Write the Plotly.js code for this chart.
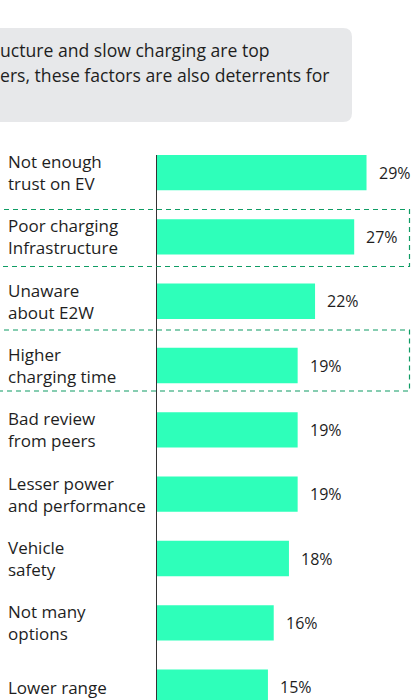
<!DOCTYPE html>
<html>
<head>
<meta charset="utf-8">
<script src="https://cdn.plot.ly/plotly-3.0.1.min.js"></script>
<style>
  html, body { margin: 0; padding: 0; overflow: hidden; background: #fff; }
  #chart { width: 411px; height: 760px; }
</style>
</head>
<body>
<div id="chart"></div>
<script>
// Barriers chart (cropped view)

const categories = [
    'Not enough<br>trust on EV',
    'Poor charging<br>Infrastructure',
    'Unaware<br>about E2W',
    'Higher<br>charging time',
    'Bad review<br>from peers',
    'Lesser power<br>and performance',
    'Vehicle<br>safety',
    'Not many<br>options',
    'Lower range'
];
// bar lengths; labels show the rounded share
const values = [28.9, 27.2, 21.8, 19.4, 19.4, 19.4, 18.2, 16.1, 15.3];
const valueLabels = ['29%', '27%', '22%', '19%', '19%', '19%', '18%', '16%', '15%'];
const highlighted = ['Poor charging<br>Infrastructure', 'Higher<br>charging time'];
const calloutLines = [
    'ucture and slow charging are top',
    'ers, these factors are also deterrents for'
];

const W = 411, H = 760;
const ml = 157, mt = 155, mr = 0, mb = 0;
const pw = W - ml - mr, ph = H - mt - mb;
const rowPx = 64.33;
const yTop = -0.2725;
const yBottom = yTop + ph / rowPx;
const pxPerUnit = 7.25;

// pixel -> paper helpers
const px = x => (x - ml) / pw;
const py = y => 1 - (y - mt) / ph;
const rowY = i => mt + (i - yTop) * rowPx;

// dashed highlight boxes: pixels above / below the row centre
const boxPad = [[28, 29], [36.5, 24.5]];

const trace = {
    type: 'bar',
    orientation: 'h',
    x: values,
    y: categories,
    marker: { color: '#2effba' },
    hoverinfo: 'skip'
};

const annotations = [];
categories.forEach((c, i) => {
    annotations.push({
        xref: 'paper', yref: 'y', x: 0, y: c, xshift: -151,
        xanchor: 'left', yanchor: 'middle', align: 'left',
        text: c, showarrow: false,
        font: { size: 17, color: '#1e1e1e' }
    });
    annotations.push({
        xref: 'x', yref: 'y', x: values[i], y: c, xshift: 10,
        xanchor: 'left', yanchor: 'middle',
        text: valueLabels[i], showarrow: false,
        font: { size: 16, color: '#1e1e1e' }
    });
});

// callout text
calloutLines.forEach((t, i) => {
    annotations.push({
        xref: 'paper', yref: 'paper', x: px(-2), y: py(50 + i * 25),
        xanchor: 'left', yanchor: 'middle', text: t, showarrow: false,
        font: { size: 17.6, color: '#1e1e1e' }
    });
});

// rounded callout box
function roundedBox(x0, y0, x1, y1, r) {
    const X = px, Y = py;
    return 'M' + X(x0 + r) + ',' + Y(y0) +
        ' L' + X(x1 - r) + ',' + Y(y0) +
        ' Q' + X(x1) + ',' + Y(y0) + ' ' + X(x1) + ',' + Y(y0 + r) +
        ' L' + X(x1) + ',' + Y(y1 - r) +
        ' Q' + X(x1) + ',' + Y(y1) + ' ' + X(x1 - r) + ',' + Y(y1) +
        ' L' + X(x0 + r) + ',' + Y(y1) +
        ' Q' + X(x0) + ',' + Y(y1) + ' ' + X(x0) + ',' + Y(y1 - r) +
        ' L' + X(x0) + ',' + Y(y0 + r) +
        ' Q' + X(x0) + ',' + Y(y0) + ' ' + X(x0 + r) + ',' + Y(y0) + ' Z';
}

const shapes = [{
    type: 'path', xref: 'paper', yref: 'paper', layer: 'below',
    path: roundedBox(-30, 28, 352, 122, 9),
    fillcolor: '#e7e8ea', line: { width: 0 }
}];

highlighted.forEach((c, k) => {
    const yc = Math.round(rowY(categories.indexOf(c)));
    shapes.push({
        type: 'rect', xref: 'paper', yref: 'paper', layer: 'above',
        x0: px(-5), x1: px(409.5),
        y0: py(yc - boxPad[k][0] + 0.5), y1: py(yc + boxPad[k][1] + 0.5),
        line: { color: '#0f9c64', width: 1.2, dash: '5px,4px' },
        fillcolor: 'rgba(0,0,0,0)'
    });
});

const layout = {
    width: W,
    height: H,
    margin: { l: ml, r: mr, t: mt, b: mb, pad: 0 },
    paper_bgcolor: '#fff',
    plot_bgcolor: '#fff',
    font: { family: '"Open Sans", sans-serif', color: '#1e1e1e' },
    showlegend: false,
    bargap: 0.45,
    xaxis: {
        range: [0, pw / pxPerUnit],
        visible: false,
        fixedrange: true
    },
    yaxis: {
        type: 'category',
        categoryorder: 'array',
        categoryarray: categories,
        range: [yBottom, yTop],
        showticklabels: false,
        showgrid: false,
        zeroline: false,
        showline: true,
        linecolor: '#333',
        linewidth: 1.5,
        ticks: '',
        fixedrange: true
    },
    annotations: annotations,
    shapes: shapes
};

Plotly.newPlot('chart', [trace], layout, { displayModeBar: false, staticPlot: true });
</script>
</body>
</html>
